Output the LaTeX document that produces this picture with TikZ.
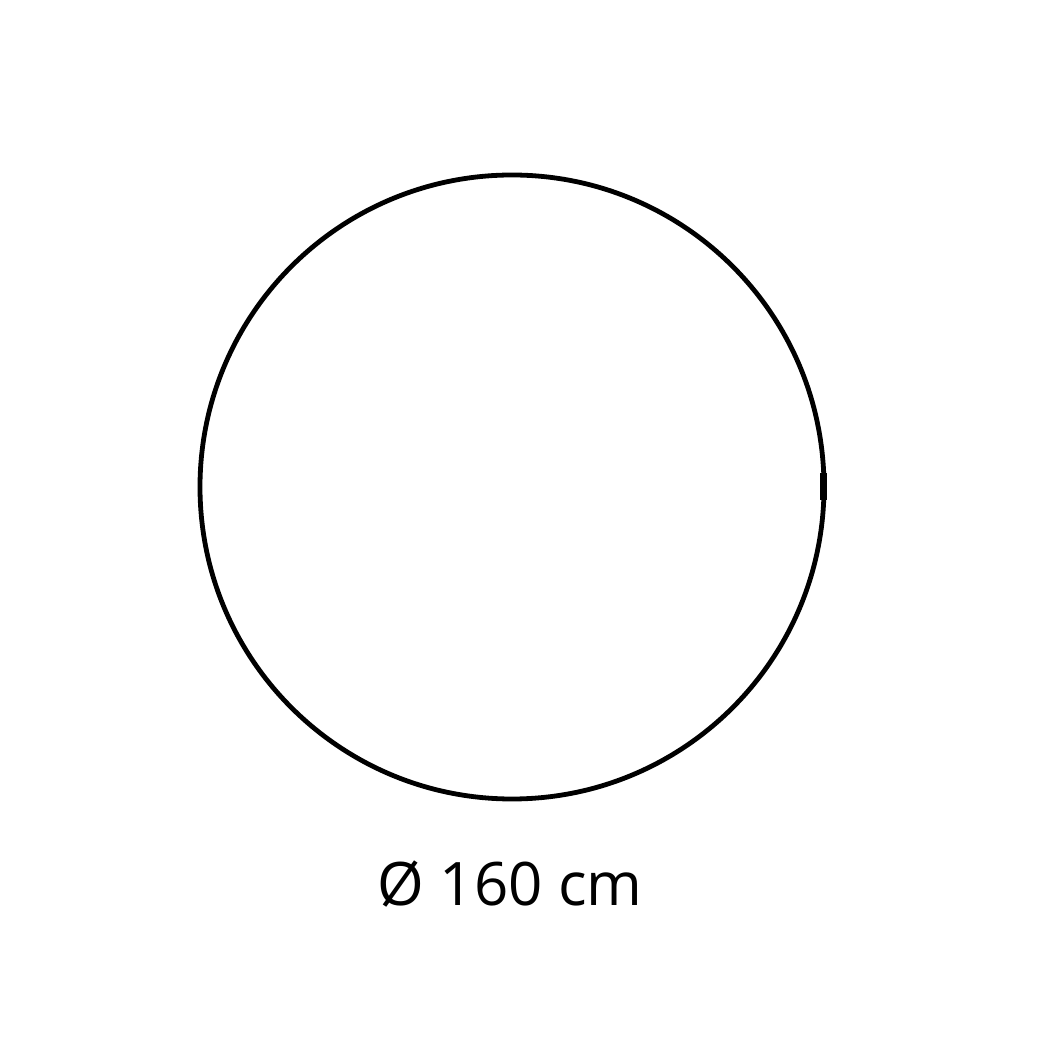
\documentclass[tikz,border=0pt]{standalone}
\usepackage{fontspec}
\setmainfont{Open Sans}
\begin{document}
\begin{tikzpicture}[x=1pt,y=1pt,
  ring/.style={draw=black,line width=4.8pt},
  dim/.style={font=\fontsize{60}{66}\selectfont,text=black,inner sep=0pt}]
\useasboundingbox (0,0) rectangle (1055,1055);
\fill[white] (0,0) rectangle (1055,1055);
\node[ring,circle,minimum size=624pt,inner sep=0pt] (c) at (512,568) {};
\fill[black] (820,555) rectangle (827,582);
\node[dim,anchor=base] (t) at (510,149) {Ø 160 cm};
\end{tikzpicture}
\end{document}
